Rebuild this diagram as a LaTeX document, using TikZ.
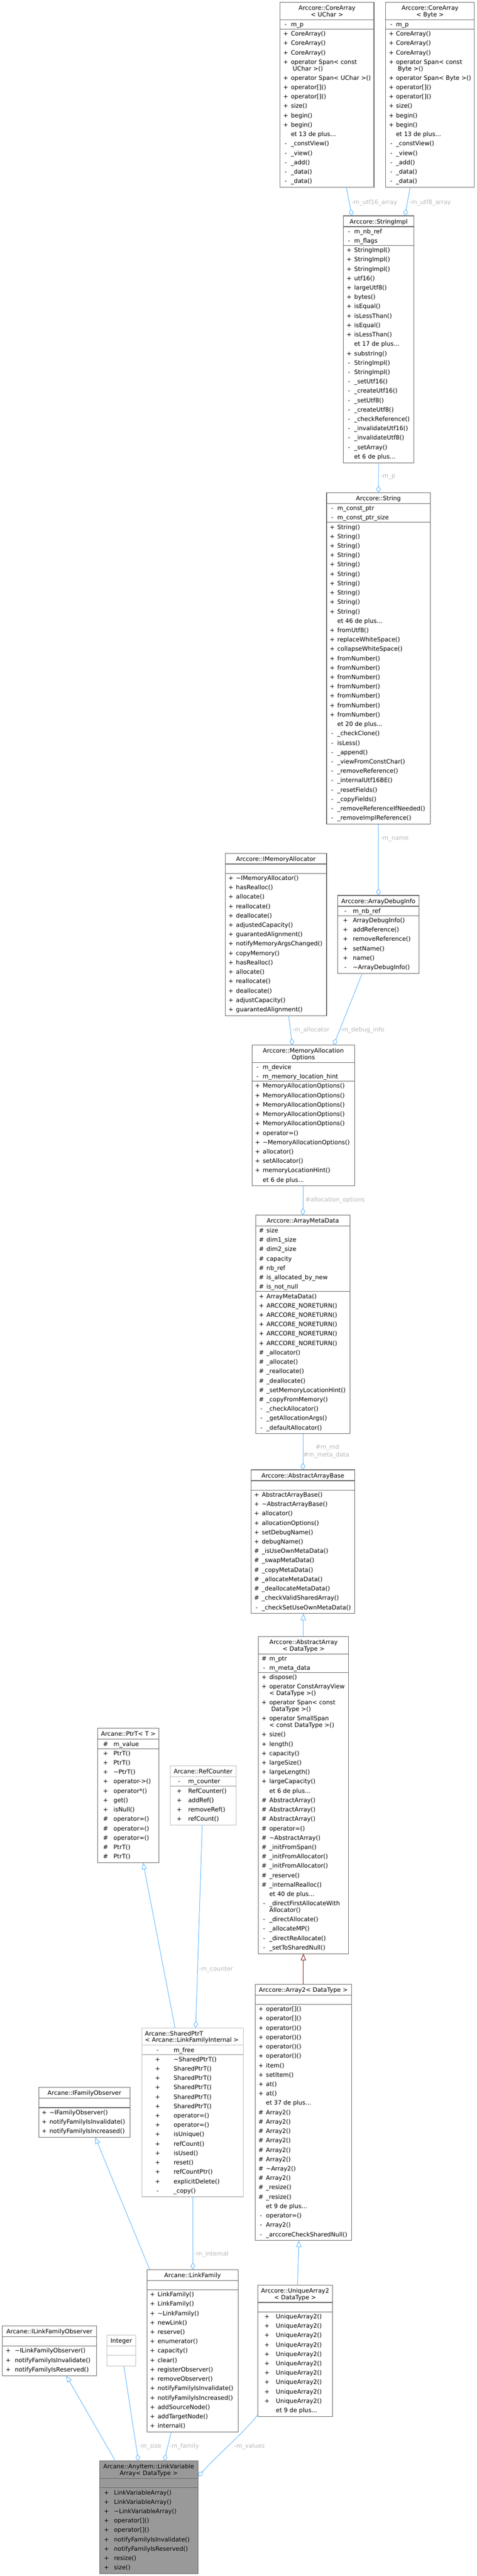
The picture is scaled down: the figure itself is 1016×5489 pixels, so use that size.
\documentclass[tikz,border=0pt]{standalone}
\usepackage{fontspec}
\setmainfont{DejaVu Sans}
\usetikzlibrary{arrows.meta,calc}
\definecolor{eblue}{HTML}{63B8FF}
\definecolor{ired}{HTML}{8B1A1A}
\definecolor{lgray}{HTML}{B8B8B8}
\definecolor{bdark}{HTML}{666666}
\definecolor{blight}{HTML}{BFBFBF}
\definecolor{lvafill}{HTML}{999999}
\pgfdeclarelayer{bg}
\pgfsetlayers{bg,main}
\tikzset{
  utext/.style={inner sep=0pt, outer sep=0pt, font=\fontsize{12.8}{14}\selectfont},
  usym/.style={utext, anchor=base},
  uname/.style={utext, anchor=base west},
  utitle/.style={utext, anchor=base},
  ubox/.style={line width=1.2pt, inner sep=0pt, outer sep=0pt, anchor=north west},
  elabel/.style={utext, anchor=base west, text=lgray},
  elabelc/.style={utext, anchor=base, text=lgray},
  agg/.style={draw=eblue, line width=1.1pt, -{Diamond[open, length=15pt, width=10pt, line width=1.1pt]}},
  inh/.style={draw=eblue, line width=1.1pt, -{Triangle[open, length=14pt, width=11pt, line width=1.1pt]}},
  inhred/.style={draw=ired, line width=1.1pt, -{Triangle[open, length=14pt, width=11pt, line width=1.1pt]}}
}
% box start: name, x, y, width, symbol offset, name offset, border colour, fill colour
\newcommand\ustart[8]{\gdef\Bn{#1}\gdef\Bx{#2}\gdef\By{#3}\gdef\Bw{#4}\gdef\Bs{#5}\gdef\Bo{#6}\gdef\Bc{#7}\gdef\Bf{#8}%
  \pgfmathsetmacro\Tb{#3+2.5}\xdef\Tb{\Tb}}
\newcommand\utl[1]{\pgfmathsetmacro\Tb{\Tb+14}\xdef\Tb{\Tb}%
  \node[utitle] at ({\Bx+\Bw/2},\Tb) {#1};}
\newcommand\utll[1]{\pgfmathsetmacro\Tb{\Tb+14}\xdef\Tb{\Tb}%
  \node[uname] at ({\Bx+7},\Tb) {#1};}
\newcommand\uet{\pgfmathsetmacro\Cy{\Tb+6.5}\xdef\Cy{\Cy}%
  \draw[line width=1.2pt, draw=\Bc] (\Bx,\Cy) -- ++(\Bw,0);}
\newcommand\usep{\draw[line width=1.2pt, draw=\Bc] (\Bx,\Cy) -- ++(\Bw,0);}
\newcommand\urow[2]{\pgfmathsetmacro\Yb{\Cy+14.5}%
  \node[usym] at ({\Bx+\Bs},\Yb) {#1};%
  \node[uname] at ({\Bx+\Bo},\Yb) {#2};%
  \pgfmathsetmacro\Cy{\Cy+20}\xdef\Cy{\Cy}}
\newcommand\urowii[3]{\pgfmathsetmacro\Yb{\Cy+14.5}%
  \node[usym] at ({\Bx+\Bs},\Yb) {#1};%
  \node[uname] at ({\Bx+\Bo},\Yb) {#2};%
  \pgfmathsetmacro\Yb{\Yb+14}%
  \node[uname] at ({\Bx+\Bo},\Yb) {#3};%
  \pgfmathsetmacro\Cy{\Cy+34}\xdef\Cy{\Cy}}
\newcommand\uempty{\pgfmathsetmacro\Cy{\Cy+20}\xdef\Cy{\Cy}}
\newcommand\uend{\pgfmathsetmacro\Hb{\Cy+3-\By}%
  \begin{pgfonlayer}{bg}%
  \node[ubox, draw=\Bc, fill=\Bf, minimum width=\Bw pt, minimum height=\Hb pt] (\Bn) at (\Bx,\By) {};%
  \end{pgfonlayer}}
\newcommand\plus{+}
\begin{document}
\begin{tikzpicture}[x=1pt,y=-1pt]
\useasboundingbox (0,0) rectangle (1016,5489);

% CoreArray<UChar>
\ustart{cau}{597}{5}{200}{12}{23}{bdark}{white}
\utl{Arccore::CoreArray}\utl{< UChar >}\uet
\urow{-}{m\_p}\usep
\urow{+}{CoreArray()}\urow{+}{CoreArray()}\urow{+}{CoreArray()}
\urowii{+}{operator Span< const}{\hspace*{4pt}UChar >()}
\urow{+}{operator Span< UChar >()}
\urow{+}{operator[]()}\urow{+}{operator[]()}
\urow{+}{size()}\urow{+}{begin()}\urow{+}{begin()}
\urow{}{et 13 de plus...}
\urow{-}{\_constView()}\urow{-}{\_view()}\urow{-}{\_add()}\urow{-}{\_data()}\urow{-}{\_data()}
\uend

% CoreArray<Byte>
\ustart{cab}{822}{5}{189}{12}{22}{bdark}{white}
\utl{Arccore::CoreArray}\utl{< Byte >}\uet
\urow{-}{m\_p}\usep
\urow{+}{CoreArray()}\urow{+}{CoreArray()}\urow{+}{CoreArray()}
\urowii{+}{operator Span< const}{\hspace*{4pt}Byte >()}
\urow{+}{operator Span< Byte >()}
\urow{+}{operator[]()}\urow{+}{operator[]()}
\urow{+}{size()}\urow{+}{begin()}\urow{+}{begin()}
\urow{}{et 13 de plus...}
\urow{-}{\_constView()}\urow{-}{\_view()}\urow{-}{\_add()}\urow{-}{\_data()}\urow{-}{\_data()}
\uend

% StringImpl
\ustart{simpl}{732}{460}{150}{12}{23}{bdark}{white}
\utl{Arccore::StringImpl}\uet
\urow{-}{m\_nb\_ref}\urow{-}{m\_flags}\usep
\urow{+}{StringImpl()}\urow{+}{StringImpl()}\urow{+}{StringImpl()}
\urow{+}{utf16()}\urow{+}{largeUtf8()}\urow{+}{bytes()}
\urow{+}{isEqual()}\urow{+}{isLessThan()}\urow{+}{isEqual()}\urow{+}{isLessThan()}
\urow{}{et 17 de plus...}
\urow{+}{substring()}
\urow{-}{StringImpl()}\urow{-}{StringImpl()}
\urow{-}{\_setUtf16()}\urow{-}{\_createUtf16()}\urow{-}{\_setUtf8()}\urow{-}{\_createUtf8()}
\urow{-}{\_checkReference()}\urow{-}{\_invalidateUtf16()}\urow{-}{\_invalidateUtf8()}
\urow{-}{\_setArray()}
\urow{}{et 6 de plus...}
\uend

% String
\ustart{string}{696}{1050}{221}{12}{23}{bdark}{white}
\utl{Arccore::String}\uet
\urow{-}{m\_const\_ptr}\urow{-}{m\_const\_ptr\_size}\usep
\urow{+}{String()}\urow{+}{String()}\urow{+}{String()}\urow{+}{String()}\urow{+}{String()}
\urow{+}{String()}\urow{+}{String()}\urow{+}{String()}\urow{+}{String()}\urow{+}{String()}
\urow{}{et 46 de plus...}
\urow{+}{fromUtf8()}\urow{+}{replaceWhiteSpace()}\urow{+}{collapseWhiteSpace()}
\urow{+}{fromNumber()}\urow{+}{fromNumber()}\urow{+}{fromNumber()}\urow{+}{fromNumber()}
\urow{+}{fromNumber()}\urow{+}{fromNumber()}\urow{+}{fromNumber()}
\urow{}{et 20 de plus...}
\urow{-}{\_checkClone()}\urow{-}{isLess()}\urow{-}{\_append()}\urow{-}{\_viewFromConstChar()}
\urow{-}{\_removeReference()}\urow{-}{\_internalUtf16BE()}\urow{-}{\_resetFields()}
\urow{-}{\_copyFields()}\urow{-}{\_removeReferenceIfNeeded()}\urow{-}{\_removeImplReference()}
\uend

% IMemoryAllocator
\ustart{imalloc}{480}{1818}{216}{12}{23}{bdark}{white}
\utl{Arccore::IMemoryAllocator}\uet
\uempty\usep
\urow{+}{\textasciitilde IMemoryAllocator()}\urow{+}{hasRealloc()}\urow{+}{allocate()}
\urow{+}{reallocate()}\urow{+}{deallocate()}\urow{+}{adjustedCapacity()}
\urow{+}{guarantedAlignment()}\urow{+}{notifyMemoryArgsChanged()}\urow{+}{copyMemory()}
\urow{+}{hasRealloc()}\urow{+}{allocate()}\urow{+}{reallocate()}\urow{+}{deallocate()}
\urow{+}{adjustCapacity()}\urow{+}{guarantedAlignment()}
\uend

% ArrayDebugInfo
\ustart{adi}{720}{1908}{173}{16}{32}{bdark}{white}
\utl{Arccore::ArrayDebugInfo}\uet
\urow{-}{m\_nb\_ref}\usep
\urow{+}{ArrayDebugInfo()}\urow{+}{addReference()}\urow{+}{removeReference()}
\urow{+}{setName()}\urow{+}{name()}\urow{-}{\textasciitilde ArrayDebugInfo()}
\uend

% MemoryAllocationOptions
\ustart{mao}{537}{2227}{219}{12}{23}{bdark}{white}
\utl{Arccore::MemoryAllocation}\utl{Options}\uet
\urow{-}{m\_device}\urow{-}{m\_memory\_location\_hint}\usep
\urow{+}{MemoryAllocationOptions()}\urow{+}{MemoryAllocationOptions()}\urow{+}{MemoryAllocationOptions()}
\urow{+}{MemoryAllocationOptions()}\urow{+}{MemoryAllocationOptions()}
\urow{+}{operator=()}\urow{+}{\textasciitilde MemoryAllocationOptions()}
\urow{+}{allocator()}\urow{+}{setAllocator()}\urow{+}{memoryLocationHint()}
\urow{}{et 6 de plus...}
\uend

% ArrayMetaData
\ustart{amd}{545}{2589}{201}{12}{23}{bdark}{white}
\utl{Arccore::ArrayMetaData}\uet
\urow{\#}{size}\urow{\#}{dim1\_size}\urow{\#}{dim2\_size}\urow{\#}{capacity}
\urow{\#}{nb\_ref}\urow{\#}{is\_allocated\_by\_new}\urow{\#}{is\_not\_null}\usep
\urow{+}{ArrayMetaData()}
\urow{+}{ARCCORE\_NORETURN()}\urow{+}{ARCCORE\_NORETURN()}\urow{+}{ARCCORE\_NORETURN()}
\urow{+}{ARCCORE\_NORETURN()}\urow{+}{ARCCORE\_NORETURN()}
\urow{\#}{\_allocator()}\urow{\#}{\_allocate()}\urow{\#}{\_reallocate()}\urow{\#}{\_deallocate()}
\urow{\#}{\_setMemoryLocationHint()}\urow{\#}{\_copyFromMemory()}
\urow{-}{\_checkAllocator()}\urow{-}{\_getAllocationArgs()}\urow{-}{\_defaultAllocator()}
\uend

% AbstractArrayBase
\ustart{aab}{535}{3132}{221}{12}{23}{bdark}{white}
\utl{Arccore::AbstractArrayBase}\uet
\uempty\usep
\urow{+}{AbstractArrayBase()}\urow{+}{\textasciitilde AbstractArrayBase()}\urow{+}{allocator()}
\urow{+}{allocationOptions()}\urow{+}{setDebugName()}\urow{+}{debugName()}
\urow{\#}{\_isUseOwnMetaData()}\urow{\#}{\_swapMetaData()}\urow{\#}{\_copyMetaData()}
\urow{\#}{\_allocateMetaData()}\urow{\#}{\_deallocateMetaData()}\urow{\#}{\_checkValidSharedArray()}
\urow{-}{\_checkSetUseOwnMetaData()}
\uend

% AbstractArray
\ustart{aa}{551}{3487}{192}{12}{23}{bdark}{white}
\utl{Arccore::AbstractArray}\utl{< DataType >}\uet
\urow{\#}{m\_ptr}\urow{-}{m\_meta\_data}\usep
\urow{+}{dispose()}
\urowii{+}{operator ConstArrayView}{< DataType >()}
\urowii{+}{operator Span< const}{\hspace*{4pt}DataType >()}
\urowii{+}{operator SmallSpan}{< const DataType >()}
\urow{+}{size()}\urow{+}{length()}\urow{+}{capacity()}\urow{+}{largeSize()}
\urow{+}{largeLength()}\urow{+}{largeCapacity()}
\urow{}{et 6 de plus...}
\urow{\#}{AbstractArray()}\urow{\#}{AbstractArray()}\urow{\#}{AbstractArray()}
\urow{\#}{operator=()}\urow{\#}{\textasciitilde AbstractArray()}\urow{\#}{\_initFromSpan()}
\urow{\#}{\_initFromAllocator()}\urow{\#}{\_initFromAllocator()}\urow{\#}{\_reserve()}
\urow{\#}{\_internalRealloc()}
\urow{}{et 40 de plus...}
\urowii{-}{\_directFirstAllocateWith}{Allocator()}
\urow{-}{\_directAllocate()}\urow{-}{\_allocateMP()}\urow{-}{\_directReAllocate()}
\urow{-}{\_setToSharedNull()}
\uend

% Array2
\ustart{a2}{544}{4228}{205}{12}{23}{bdark}{white}
\utl{Arccore::Array2< DataType >}\uet
\uempty\usep
\urow{+}{operator[]()}\urow{+}{operator[]()}
\urow{+}{operator()()}\urow{+}{operator()()}\urow{+}{operator()()}\urow{+}{operator()()}
\urow{+}{item()}\urow{+}{setItem()}\urow{+}{at()}\urow{+}{at()}
\urow{}{et 37 de plus...}
\urow{\#}{Array2()}\urow{\#}{Array2()}\urow{\#}{Array2()}\urow{\#}{Array2()}\urow{\#}{Array2()}
\urow{\#}{Array2()}\urow{\#}{\textasciitilde Array2()}\urow{\#}{Array2()}
\urow{\#}{\_resize()}\urow{\#}{\_resize()}
\urow{}{et 9 de plus...}
\urow{-}{operator=()}\urow{-}{Array2()}\urow{-}{\_arccoreCheckSharedNull()}
\uend

% UniqueArray2
\ustart{ua2}{549}{4869}{160}{20}{39}{bdark}{white}
\utl{Arccore::UniqueArray2}\utl{< DataType >}\uet
\uempty\usep
\urow{+}{UniqueArray2()}\urow{+}{UniqueArray2()}\urow{+}{UniqueArray2()}\urow{+}{UniqueArray2()}
\urow{+}{UniqueArray2()}\urow{+}{UniqueArray2()}\urow{+}{UniqueArray2()}\urow{+}{UniqueArray2()}
\urow{+}{UniqueArray2()}\urow{+}{UniqueArray2()}
\urow{}{et 9 de plus...}
\uend

% PtrT
\ustart{ptrt}{208}{3683}{131}{17}{34}{bdark}{white}
\utl{Arcane::PtrT< T >}\uet
\urow{\#}{m\_value}\usep
\urow{+}{PtrT()}\urow{+}{PtrT()}\urow{+}{\textasciitilde PtrT()}\urow{+}{operator->()}
\urow{+}{operator*()}\urow{+}{get()}\urow{+}{isNull()}
\urow{\#}{operator=()}\urow{\#}{operator=()}\urow{\#}{operator=()}
\urow{\#}{PtrT()}\urow{\#}{PtrT()}
\uend

% RefCounter
\ustart{refc}{363}{3763}{140}{19}{38}{blight}{white}
\utl{Arcane::RefCounter}\uet
\urow{-}{m\_counter}\usep
\urow{+}{RefCounter()}\urow{+}{addRef()}\urow{+}{removeRef()}\urow{+}{refCount()}
\uend

% SharedPtrT
\ustart{sptr}{302}{4321}{217}{34}{68}{blight}{white}
\utll{Arcane::SharedPtrT}\utll{< Arcane::LinkFamilyInternal >}\uet
\urow{-}{m\_free}\usep
\urow{+}{\textasciitilde SharedPtrT()}\urow{+}{SharedPtrT()}\urow{+}{SharedPtrT()}\urow{+}{SharedPtrT()}
\urow{+}{SharedPtrT()}\urow{+}{SharedPtrT()}\urow{+}{operator=()}\urow{+}{operator=()}
\urow{+}{isUnique()}\urow{+}{refCount()}\urow{+}{isUsed()}\urow{+}{reset()}
\urow{+}{refCountPtr()}\urow{+}{explicitDelete()}\urow{-}{\_copy()}
\uend

% IFamilyObserver
\ustart{ifo}{82.5}{4448}{195}{12}{23}{bdark}{white}
\utl{Arcane::IFamilyObserver}\uet
\uempty\usep
\urow{+}{\textasciitilde IFamilyObserver()}\urow{+}{notifyFamilyIsInvalidate()}\urow{+}{notifyFamilyIsIncreased()}
\uend

% LinkFamily
\ustart{lf}{313}{4836}{195}{12}{23}{bdark}{white}
\utl{Arcane::LinkFamily}\uet
\uempty\usep
\urow{+}{LinkFamily()}\urow{+}{LinkFamily()}\urow{+}{\textasciitilde LinkFamily()}\urow{+}{newLink()}
\urow{+}{reserve()}\urow{+}{enumerator()}\urow{+}{capacity()}\urow{+}{clear()}
\urow{+}{registerObserver()}\urow{+}{removeObserver()}\urow{+}{notifyFamilyIsInvalidate()}
\urow{+}{notifyFamilyIsIncreased()}\urow{+}{addSourceNode()}\urow{+}{addTargetNode()}
\urow{+}{internal()}
\uend

% ILinkFamilyObserver
\ustart{ilfo}{4.6}{4956}{201.5}{13}{27}{bdark}{white}
\utl{Arcane::ILinkFamilyObserver}\uet
\uempty\usep
\urow{+}{\textasciitilde ILinkFamilyObserver()}\urow{+}{notifyFamilyIsInvalidate()}\urow{+}{notifyFamilyIsReserved()}
\uend

% Integer
\ustart{integ}{228}{4976}{61}{12}{23}{blight}{white}
\utl{Integer}\uet
\uempty\usep\uempty
\uend

% LinkVariableArray
\ustart{lva}{212}{5244}{210}{15}{31}{bdark}{lvafill}
\utl{Arcane::AnyItem::LinkVariable}\utl{Array< DataType >}\uet
\uempty\usep
\urow{+}{LinkVariableArray()}\urow{+}{LinkVariableArray()}\urow{+}{\textasciitilde LinkVariableArray()}
\urow{+}{operator[]()}\urow{+}{operator[]()}\urow{+}{notifyFamilyIsInvalidate()}
\urow{+}{notifyFamilyIsReserved()}\urow{+}{resize()}\urow{+}{size()}
\uend

% ---- connectors ----
\draw[agg] ($(cau.south west)+(141,0)$) -- ($(simpl.north west)+(18,0)$);
\node[elabel] (l1) at (749,435) {-m\_utf16\_array};
\draw[agg] ($(cab.south west)+(52,0)$) -- ($(simpl.north west)+(131,0)$);
\node[elabel] (l2) at (872,435) {-m\_utf8\_array};
\draw[agg] (simpl.south) -- (string.north);
\node[elabel] (l3) at (811,1018) {-m\_p};
\draw[agg] (string.south) -- (adi.north);
\node[elabel] (l4) at (811,1790) {-m\_name};
\draw[agg] ($(imalloc.south west)+(135,0)$) -- ($(mao.north west)+(86,0)$);
\node[elabel] (l5) at (623,2198) {-m\_allocator};
\draw[agg] ($(adi.south west)+(52,0)$) -- ($(mao.north west)+(174,0)$);
\node[elabel] (l6) at (725,2198) {-m\_debug\_info};
\draw[agg] (mao.south) -- (amd.north);
\node[elabel] (l7) at (651,2561) {\#allocation\_options};
\draw[agg] (amd.south) -- (aab.north);
\node[elabelc] (l8) at (697.5,3088) {\#m\_md};
\node[elabelc] (l9) at (695.5,3104) {\#m\_meta\_data};
\draw[inh] ($(aa.north west)+(95.5,0)$) -- ($(aab.south west)+(111.5,0)$);
\draw[inhred] (a2.north) -- ($(aa.south west)+(95.5,0)$);
\draw[inh] ($(ua2.north west)+(85,0)$) -- ($(a2.south west)+(93,0)$);
\draw[inh] ($(sptr.north west)+(71,0)$) -- ($(ptrt.south west)+(97,0)$);
\draw[agg] ($(refc.south west)+(68,0)$) -- ($(sptr.north west)+(115,0)$);
\node[elabel] (l10) at (424,4200) {-m\_counter};
\draw[agg] ($(sptr.south west)+(109,0)$) -- ($(lf.north west)+(98,0)$);
\node[elabel] (l11) at (414,4807) {-m\_internal};
\draw[inh] ($(lf.north west)+(6,0)$) -- ($(ifo.south west)+(120.5,0)$);
\draw[inh] ($(lva.north west)+(34,0)$) -- ($(ilfo.south west)+(136.4,0)$);
\draw[agg] ($(integ.south west)+(36,0)$) -- ($(lva.north west)+(83,0)$);
\node[elabel] (l12) at (296,5216) {-m\_size};
\draw[agg] ($(lf.south west)+(52,0)$) -- ($(lva.north west)+(138,0)$);
\node[elabel] (l13) at (361,5216) {-m\_family};
\draw[agg] ($(ua2.south west)+(0,-3)$) .. controls (525,5178) and (470,5225) .. ($(lva.north east)+(0,33)$);
\node[elabel] (l14) at (499,5216) {-m\_values};
\end{tikzpicture}
\end{document}
